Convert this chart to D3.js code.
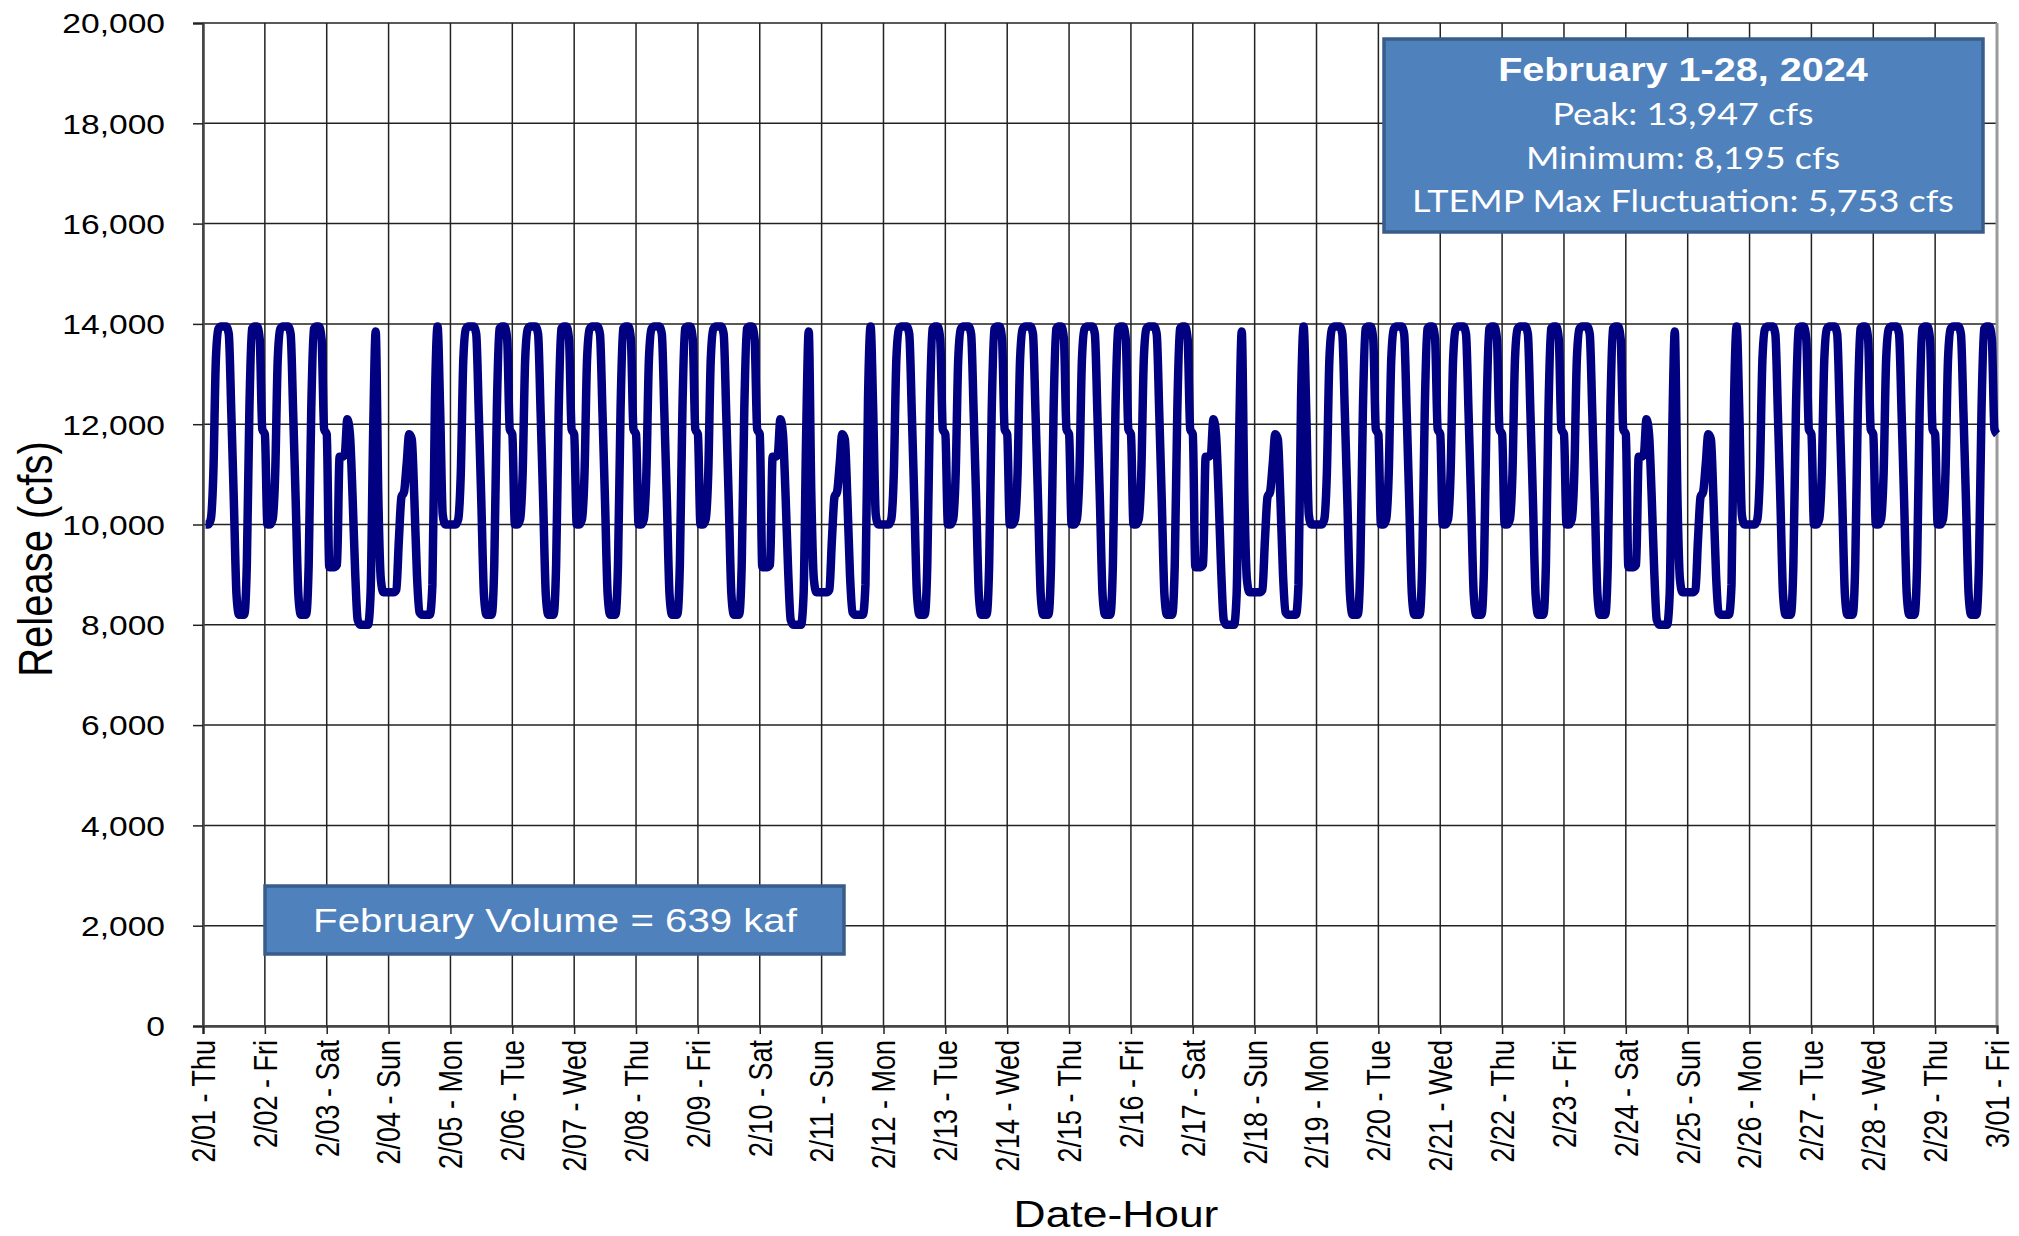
<!DOCTYPE html>
<html><head><meta charset="utf-8">
<script src="https://cdn.jsdelivr.net/npm/d3@7"></script>
<style>body{margin:0;background:#fff;} svg{display:block;}</style>
</head><body><svg id="chart" width="2019" height="1236"></svg>
<script>
// ---- data ----
const dayLabels = ["2/01 - Thu","2/02 - Fri","2/03 - Sat","2/04 - Sun","2/05 - Mon","2/06 - Tue","2/07 - Wed",
  "2/08 - Thu","2/09 - Fri","2/10 - Sat","2/11 - Sun","2/12 - Mon","2/13 - Tue","2/14 - Wed",
  "2/15 - Thu","2/16 - Fri","2/17 - Sat","2/18 - Sun","2/19 - Mon","2/20 - Tue","2/21 - Wed",
  "2/22 - Thu","2/23 - Fri","2/24 - Sat","2/25 - Sun","2/26 - Mon","2/27 - Tue","2/28 - Wed",
  "2/29 - Thu","3/01 - Fri"];
// hourly release (cfs), hour-ending 1..24
const weekdayPattern = [10000,10000,10100,11000,13300,13900,13947,13947,13947,13800,12200,10400,
  8600,8200,8200,8200,9200,12300,13900,13947,13947,13700,11900,11800];
const saturdayPattern = [9150,9150,9150,9200,11350,11350,11400,12100,11800,10600,9100,8100,
  8000,8000,8000,8000,8600,11800,13850,10600,8900,8650,8650,8650];
const sundayPattern = [8650,8650,8700,9700,10550,10650,11200,11800,11700,10500,9000,8250,
  8200,8200,8200,8200,8800,12500,13947,12300,10200,10000,10000,10000];
const yTicks = [0,2000,4000,6000,8000,10000,12000,14000,16000,18000,20000];
const summaryTitle = "February 1-28, 2024";
const summaryLines = ["Peak: 13,947 cfs","Minimum: 8,195 cfs","LTEMP Max Fluctuation: 5,753 cfs"];
const volumeText = "February Volume = 639 kaf";
const xTitle = "Date-Hour";
const yTitle = "Release (cfs)";

// ---- build hourly series ----
const nDays = dayLabels.length - 1;
const series = [];
for (let i = 0; i < nDays; i++) {
  const wd = dayLabels[i].split(" - ")[1];
  const pat = wd === "Sat" ? saturdayPattern : wd === "Sun" ? sundayPattern : weekdayPattern;
  pat.forEach((v, h) => series.push({t: i + (h + 1) / 24, v}));
}

// ---- layout ----
const SX = 1.2;
const L = 203, R = 1997, T = 23, B = 1026;
const svg = d3.select("#chart");
const x = d3.scaleLinear().domain([0, nDays]).range([L, R]);
const y = d3.scaleLinear().domain([0, 20000]).range([B, T]);
const FONT = "'Liberation Sans', Arial, sans-serif";

// grid
svg.append("g").selectAll("line").data(d3.range(nDays + 1)).join("line")
  .attr("x1", d => x(d)).attr("x2", d => x(d)).attr("y1", T).attr("y2", B)
  .attr("stroke", "#222").attr("stroke-width", 1.5);
svg.append("g").selectAll("line").data(yTicks).join("line")
  .attr("x1", L).attr("x2", R).attr("y1", d => y(d)).attr("y2", d => y(d))
  .attr("stroke", "#222").attr("stroke-width", 1.5);
// right border
svg.append("line").attr("x1", R).attr("x2", R).attr("y1", T).attr("y2", B)
  .attr("stroke", "#9a9a9a").attr("stroke-width", 3);

// y axis
const gy = svg.append("g").attr("transform", `translate(${L},0)`)
  .call(d3.axisLeft(y).tickValues(yTicks).tickFormat(d3.format(",")).tickSize(10).tickPadding(0));
gy.select(".domain").attr("stroke", "#444").attr("stroke-width", 2.5);
gy.selectAll(".tick line").attr("stroke", "#222").attr("stroke-width", 1.5);
gy.selectAll(".tick text").attr("x", null).attr("dy", "0.35em")
  .attr("transform", `translate(-38,0) scale(${SX},1)`)
  .attr("font-family", FONT).attr("font-size", 28).attr("fill", "#000").attr("text-anchor", "end");

// x axis
const gx = svg.append("g").attr("transform", `translate(0,${B})`)
  .call(d3.axisBottom(x).tickValues(d3.range(nDays + 1)).tickFormat(i => dayLabels[i]).tickSize(8).tickPadding(0));
gx.select(".domain").attr("stroke", "#444").attr("stroke-width", 2.5);
gx.selectAll(".tick line").attr("stroke", "#222").attr("stroke-width", 1.5);
gx.selectAll(".tick text").attr("y", null).attr("dy", "0.35em")
  .attr("transform", `translate(0,14) scale(${SX},1) rotate(-90)`)
  .attr("font-family", FONT).attr("font-size", 27).attr("fill", "#000").attr("text-anchor", "end");

// axis titles
svg.append("text").attr("transform", `translate(35,559) scale(${SX},1) rotate(-90)`)
  .attr("text-anchor", "middle").attr("dominant-baseline", "central")
  .attr("font-family", FONT).attr("font-size", 40).attr("fill", "#000").text(yTitle);
svg.append("text").attr("transform", `translate(1116,1227) scale(${SX},1)`)
  .attr("text-anchor", "middle").attr("font-family", FONT).attr("font-size", 37).attr("fill", "#000").text(xTitle);

// release line
svg.append("path").datum(series)
  .attr("d", d3.line().x(d => x(d.t)).y(d => y(d.v)).curve(d3.curveMonotoneX))
  .attr("fill", "none").attr("stroke", "#000080").attr("stroke-width", 8.5)
  .attr("stroke-linejoin", "round");

// summary box
svg.append("rect").attr("x", 1384).attr("y", 39).attr("width", 599).attr("height", 193)
  .attr("fill", "#4F81BD").attr("stroke", "#385D8A").attr("stroke-width", 3.5);
svg.append("text").attr("transform", `translate(1683,81) scale(${SX},1)`)
  .attr("text-anchor", "middle").attr("font-family", FONT).attr("font-weight", "bold")
  .attr("font-size", 33).attr("fill", "#fff").text(summaryTitle);
const boxY = [125, 169, 212];
summaryLines.forEach((s, i) => {
  svg.append("text").attr("transform", `translate(1683,${boxY[i]}) scale(${SX},1)`)
    .attr("text-anchor", "middle").attr("font-family", "Lato, 'Open Sans', sans-serif")
    .attr("font-size", 30).attr("fill", "#fff").text(s);
});

// volume box
svg.append("rect").attr("x", 265).attr("y", 886).attr("width", 579).attr("height", 68)
  .attr("fill", "#4F81BD").attr("stroke", "#385D8A").attr("stroke-width", 3.5);
svg.append("text").attr("transform", `translate(555,932) scale(${SX},1)`)
  .attr("text-anchor", "middle").attr("font-family", FONT)
  .attr("font-size", 33.5).attr("fill", "#fff").text(volumeText);
</script>
</body></html>
